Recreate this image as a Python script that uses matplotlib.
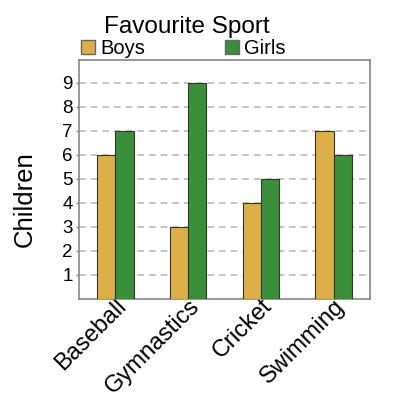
import matplotlib
matplotlib.use("Agg")
import matplotlib.pyplot as plt
import numpy as np
from matplotlib.patches import Patch

categories = ["Baseball", "Gymnastics", "Cricket", "Swimming"]
boys = [6, 3, 4, 7]
girls = [7, 9, 5, 6]
yticks = [1, 2, 3, 4, 5, 6, 7, 8, 9]

plt.rcParams['font.family'] = ['Liberation Sans', 'DejaVu Sans']

fig = plt.figure(figsize=(4, 4), dpi=100)
ax = fig.add_axes([0.1975, 0.2525, 0.7275, 0.5975])

x = np.arange(len(categories))
w = 0.25
c_boys = "#DDAF48"
c_girls = "#3A8F3A"
ax.bar(x - w/2, boys, w, color=c_boys, edgecolor="#333333", linewidth=0.8, zorder=3)
ax.bar(x + w/2, girls, w, color=c_girls, edgecolor="#333333", linewidth=0.8, zorder=3)

ax.set_xlim(-0.5, 3.5)
ax.set_ylim(0, 9.95)
ax.set_yticks(yticks)
ax.set_yticklabels([str(v) for v in yticks], fontsize=13.5)
ax.set_xticks(x)
ax.set_xticklabels(categories, rotation=45, ha="right", rotation_mode="anchor", fontsize=17)
ax.tick_params(axis="y", length=2.5, width=1, color="#888888", pad=2)
ax.tick_params(axis="x", length=0, pad=-3)
ax.yaxis.grid(True, linestyle=(0, (4, 3)), color="#bbbbbb", linewidth=1.2, zorder=0)
ax.set_axisbelow(True)
for s in ax.spines.values():
    s.set_color("#888888")
    s.set_linewidth(1.2)

ax.set_ylabel("Children", fontsize=18.5)
ax.yaxis.set_label_coords(-0.144, 0.418)
fig.text(0.468, 0.9325, "Favourite Sport", ha="center", va="center", fontsize=17.5)

handles = [Patch(facecolor=c_boys, edgecolor="#666666", label="Boys"),
           Patch(facecolor=c_girls, edgecolor="#666666", label="Girls")]
ax.legend(handles=handles, ncol=2, loc="lower left", bbox_to_anchor=(0.0, 1.0),
          frameon=False, fontsize=14.5, handlelength=0.7, handleheight=0.7,
          handletextpad=0.25, columnspacing=3.95, borderaxespad=0, borderpad=0.1)

fig.savefig("out.png", dpi=100)
